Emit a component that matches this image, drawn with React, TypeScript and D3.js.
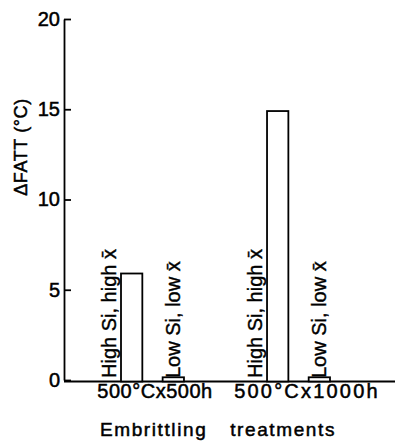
import React, { useEffect, useRef } from "react";
import * as d3 from "d3";

const treatments = ["500°Cx500h", "500°Cx1000h"];
const steels = ["high", "low"];
const steelLabels = ["High Si, high x\u0304", "Low Si,  low x\u0304"];
const highSiValues = [5.9, 14.9];
const lowSiValues = [0.15, 0.15];
const yTicks = [0, 5, 10, 15, 20];

const W = 395;
const H = 446;
const FONT = "'Liberation Sans', Arial, sans-serif";

export default function App() {
  const ref = useRef<SVGSVGElement>(null);

  useEffect(() => {
    const svg = d3.select(ref.current);
    svg.selectAll("*").remove();

    const axisX = 64;
    const y = d3.scaleLinear().domain([0, 20]).range([380, 19]);

    const x0 = d3.scaleBand().domain(treatments).range([100, 330]).paddingInner(0.425);
    // bars sit in the right part of each group, the "high" label takes the left part
    const x1 = d3
      .scaleBand()
      .domain(steels)
      .range([21, x0.bandwidth()])
      .paddingInner(20 / 41);

    const g = svg.append("g");

    // Y axis
    const yAxis = g
      .append("g")
      .attr("transform", `translate(${axisX},0)`)
      .call(d3.axisLeft(y).tickValues(yTicks).tickSizeInner(-7).tickSizeOuter(0).tickPadding(4));
    yAxis.select(".domain").attr("stroke", "#000").attr("stroke-width", 1.8);
    yAxis.selectAll(".tick line").attr("stroke", "#000").attr("stroke-width", 1.8);
    yAxis
      .selectAll(".tick text")
      .attr("font-family", FONT)
      .attr("font-size", 20)
      .attr("fill", "#000")
      .attr("stroke", "#000")
      .attr("stroke-width", 0.5);

    // baseline
    g.append("line")
      .attr("x1", axisX)
      .attr("x2", W)
      .attr("y1", y(0) + 1.5)
      .attr("y2", y(0) + 1.5)
      .attr("stroke", "#000")
      .attr("stroke-width", 1.8);

    // bars
    const rows = treatments.map((t, i) => ({
      t,
      vals: [
        { k: "high", v: highSiValues[i], label: steelLabels[0] },
        { k: "low", v: lowSiValues[i], label: steelLabels[1] },
      ],
    }));

    const grp = g
      .selectAll("g.grp")
      .data(rows)
      .join("g")
      .attr("class", "grp")
      .attr("transform", (d) => `translate(${x0(d.t)},0)`);

    grp
      .selectAll("rect")
      .data((d) => d.vals)
      .join("rect")
      .attr("x", (d) => x1(d.k)!)
      .attr("y", (d) => y(d.v))
      .attr("width", x1.bandwidth())
      .attr("height", (d) => y(0) + 1.5 - y(d.v))
      .attr("fill", "#fff")
      .attr("stroke", "#000")
      .attr("stroke-width", 1.8);

    // rotated labels
    grp
      .selectAll("text.lab")
      .data((d) => d.vals)
      .join("text")
      .attr("class", "lab")
      .attr("transform", (d) => {
        const bx = x1(d.k)!;
        const cx = d.k === "high" ? bx - 5 : bx + x1.bandwidth() / 2 + 7;
        return `translate(${cx},${y(0) - 2}) rotate(-90)`;
      })
      .attr("font-family", FONT)
      .attr("font-size", 20)
      .attr("fill", "#000")
      .attr("stroke", "#000")
      .attr("stroke-width", 0.4)
      .text((d) => d.label);

    // category labels
    g.selectAll("text.cat")
      .data(treatments)
      .join("text")
      .attr("class", "cat")
      .attr("x", (d, i) => (i === 0 ? 155 : 307))
      .attr("y", 398)
      .attr("text-anchor", "middle")
      .attr("font-family", FONT)
      .attr("font-size", 20)
      .attr("letter-spacing", (d, i) => (i === 0 ? 0.5 : 2.2))
      .attr("stroke", "#000")
      .attr("stroke-width", 0.5)
      .text((d) => d);

    g.append("text")
      .attr("x", 218)
      .attr("y", 436)
      .attr("text-anchor", "middle")
      .attr("font-family", FONT)
      .attr("font-size", 19)
      .attr("letter-spacing", 1.6)
      .attr("word-spacing", 16)
      .attr("stroke", "#000")
      .attr("stroke-width", 0.5)
      .text("Embrittling treatments");

    g.append("text")
      .attr("transform", `translate(27,147) rotate(-90)`)
      .attr("text-anchor", "middle")
      .attr("font-family", FONT)
      .attr("font-size", 18)
      .attr("letter-spacing", 0.6)
      .attr("stroke", "#000")
      .attr("stroke-width", 0.5)
      .text("ΔFATT (°C)");
  }, []);

  return (
    <svg
      ref={ref}
      width={W}
      height={H}
      style={{ position: "absolute", left: 0, top: 0, background: "#fff" }}
    />
  );
}
